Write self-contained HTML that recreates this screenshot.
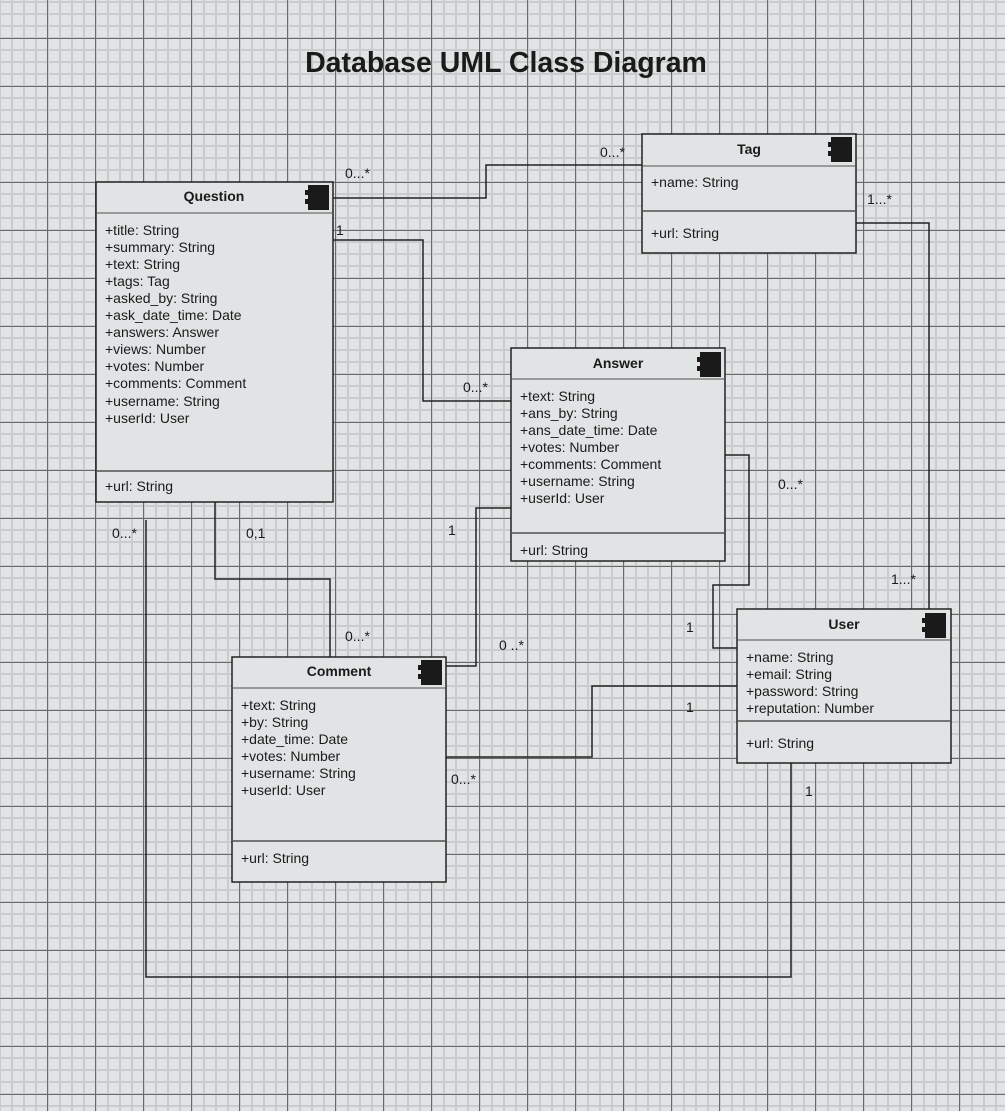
<!DOCTYPE html>
<html><head><meta charset="utf-8"><style>
html,body{margin:0;padding:0;background:#e1e4e5}
svg{display:block}
text{font-family:"Liberation Sans",Arial,sans-serif;fill:#1a1a1a}
</style></head><body>
<svg width="1005" height="1111" viewBox="0 0 1005 1111" xmlns="http://www.w3.org/2000/svg">
<defs>
<pattern id="minor" x="11" y="1" width="12" height="12" patternUnits="userSpaceOnUse">
<rect x="0" y="0" width="2" height="12" fill="#c9cbcc"/><rect x="0" y="0" width="12" height="2" fill="#c9cbcc"/>
</pattern>
<pattern id="major" x="47" y="38" width="48" height="48" patternUnits="userSpaceOnUse">
<rect x="0" y="0" width="1" height="48" fill="#6a6a6a"/><rect x="0" y="0" width="48" height="1" fill="#6a6a6a"/>
</pattern>
<g id="ic"><rect x="3" y="0" width="21" height="25" fill="#1a1a1a"/><rect x="0" y="5" width="5" height="5" fill="#1a1a1a"/><rect x="0" y="14" width="5" height="5" fill="#1a1a1a"/></g>
</defs>
<rect width="1005" height="1111" fill="#e1e4e5"/>
<rect width="1005" height="1111" fill="url(#minor)"/>
<rect width="1005" height="1111" fill="url(#major)"/>

<text x="506" y="72" text-anchor="middle" font-size="28.5" font-weight="bold">Database UML Class Diagram</text>

<g fill="none" stroke="#222" stroke-width="1.5">
<polyline points="333,198 486,198 486,165 642,165"/>
<polyline points="333,240 423,240 423,401 511,401"/>
<polyline points="856,223 929,223 929,609"/>
<polyline points="725,455 749,455 749,585 713,585 713,648 737,648"/>
<polyline points="511,508 476,508 476,666 446,666"/>
<polyline points="215,502 215,579 330,579 330,657"/>
<polyline points="446,757 592,757 592,686 737,686"/>
<polyline points="146,520 146,977 791,977 791,763"/>
</g>

<g font-size="14">
<text x="345" y="178">0...*</text>
<text x="600" y="157">0...*</text>
<text x="336" y="235">1</text>
<text x="463" y="392">0...*</text>
<text x="867" y="204">1...*</text>
<text x="778" y="489">0...*</text>
<text x="891" y="584">1...*</text>
<text x="686" y="632">1</text>
<text x="686" y="712">1</text>
<text x="448" y="535">1</text>
<text x="499" y="650">0 ..*</text>
<text x="112" y="538">0...*</text>
<text x="246" y="538">0,1</text>
<text x="345" y="641">0...*</text>
<text x="451" y="784">0...*</text>
<text x="805" y="796">1</text>
</g>

<g stroke="#222" stroke-width="1.5" fill="#e1e4e5">
<rect x="96" y="182" width="237" height="320"/>
<rect x="642" y="134" width="214" height="119"/>
<rect x="511" y="348" width="214" height="213"/>
<rect x="737" y="609" width="214" height="154"/>
<rect x="232" y="657" width="214" height="225"/>
</g>
<g stroke="#9a9a9a" stroke-width="2">
<line x1="97" y1="213" x2="332" y2="213"/>
<line x1="643" y1="166" x2="855" y2="166"/>
<line x1="512" y1="379" x2="724" y2="379"/>
<line x1="738" y1="640" x2="950" y2="640"/>
<line x1="233" y1="688" x2="445" y2="688"/>
</g>
<g stroke="#333" stroke-width="1.2">
<line x1="97" y1="471" x2="332" y2="471"/>
<line x1="643" y1="211" x2="855" y2="211"/>
<line x1="512" y1="533" x2="724" y2="533"/>
<line x1="738" y1="721" x2="950" y2="721"/>
<line x1="233" y1="841" x2="445" y2="841"/>
</g>
<use href="#ic" x="305" y="185"/>
<use href="#ic" x="828" y="137"/>
<use href="#ic" x="697" y="352"/>
<use href="#ic" x="922" y="613"/>
<use href="#ic" x="418" y="660"/>

<g font-size="14" font-weight="bold" text-anchor="middle">
<text x="214" y="201">Question</text>
<text x="749" y="154">Tag</text>
<text x="618" y="368">Answer</text>
<text x="844" y="629">User</text>
<text x="339" y="676">Comment</text>
</g>

<g font-size="14">
<text x="105" y="235">+title: String</text>
<text x="105" y="252">+summary: String</text>
<text x="105" y="269">+text: String</text>
<text x="105" y="286">+tags: Tag</text>
<text x="105" y="303">+asked_by: String</text>
<text x="105" y="320">+ask_date_time: Date</text>
<text x="105" y="337">+answers: Answer</text>
<text x="105" y="354">+views: Number</text>
<text x="105" y="371">+votes: Number</text>
<text x="105" y="388">+comments: Comment</text>
<text x="105" y="406">+username: String</text>
<text x="105" y="423">+userId: User</text>
<text x="105" y="491">+url: String</text>

<text x="651" y="187">+name: String</text>
<text x="651" y="238">+url: String</text>

<text x="520" y="401">+text: String</text>
<text x="520" y="418">+ans_by:  String</text>
<text x="520" y="435">+ans_date_time: Date</text>
<text x="520" y="452">+votes: Number</text>
<text x="520" y="469">+comments:  Comment</text>
<text x="520" y="486">+username: String</text>
<text x="520" y="503">+userId: User</text>
<text x="520" y="555">+url: String</text>

<text x="746" y="662">+name:  String</text>
<text x="746" y="679">+email: String</text>
<text x="746" y="696">+password:  String</text>
<text x="746" y="713">+reputation:  Number</text>
<text x="746" y="748">+url: String</text>

<text x="241" y="710">+text: String</text>
<text x="241" y="727">+by: String</text>
<text x="241" y="744">+date_time: Date</text>
<text x="241" y="761">+votes: Number</text>
<text x="241" y="778">+username: String</text>
<text x="241" y="795">+userId: User</text>
<text x="241" y="863">+url: String</text>
</g>
</svg>
</body></html>
